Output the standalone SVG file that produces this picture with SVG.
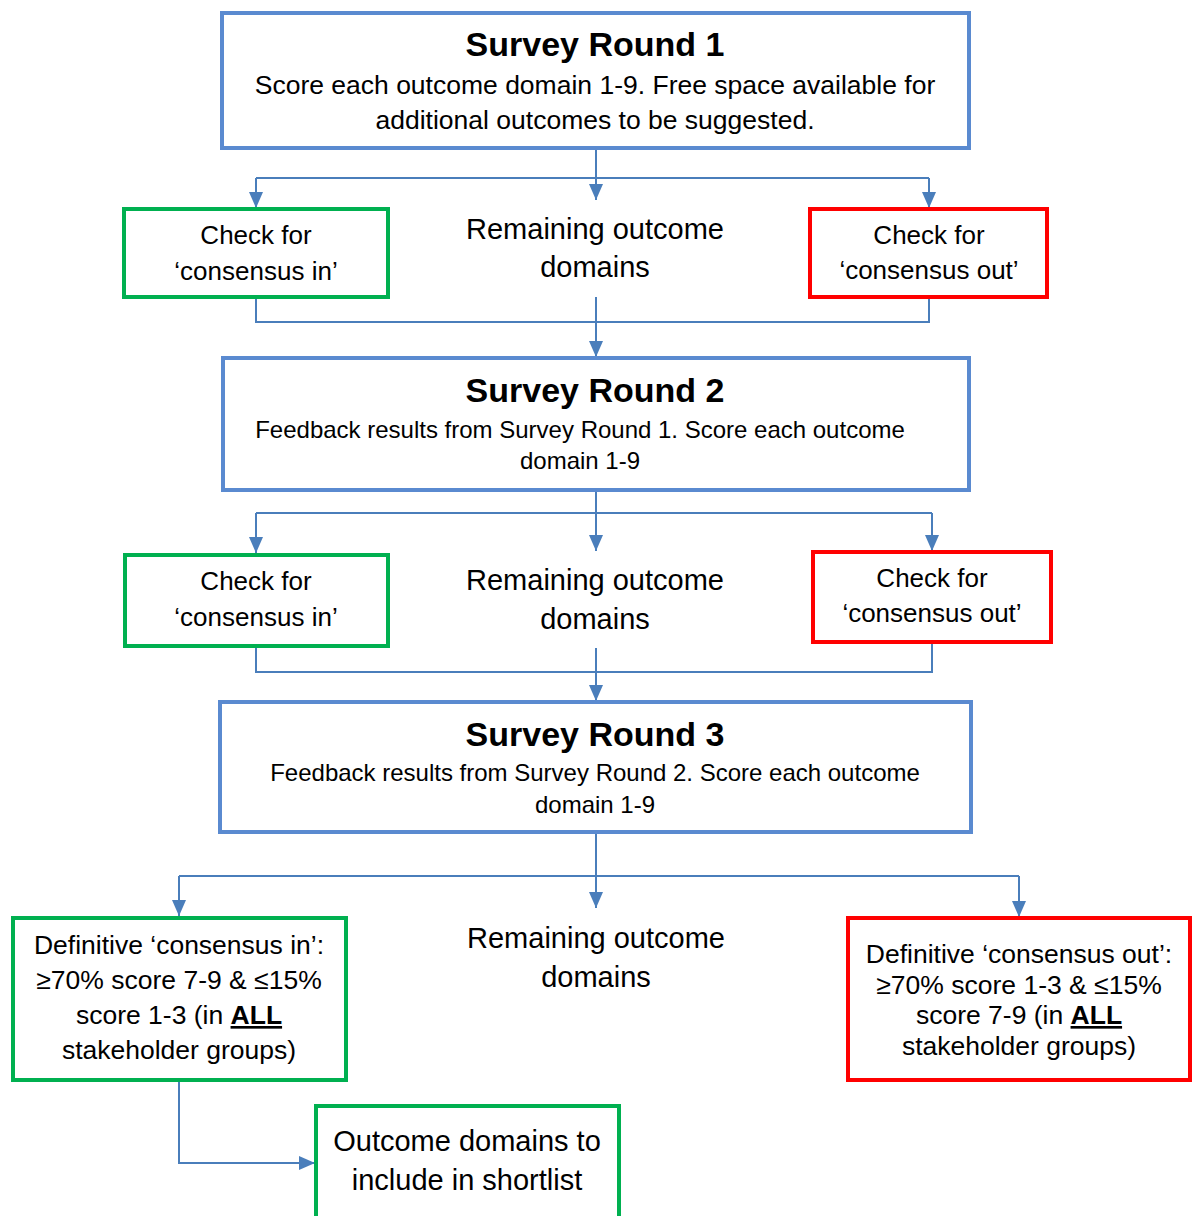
<svg xmlns="http://www.w3.org/2000/svg" width="1192" height="1216" viewBox="0 0 1192 1216">
<style>
text{font-family:"Liberation Sans",Arial,sans-serif;fill:#000;text-anchor:middle}
.t{font-size:34px;font-weight:bold}
.s{font-size:24px}
.s1{font-size:26.5px}
.m{font-size:26px}
.r{font-size:29px}
.blue{fill:#fff;stroke:#5A8AD0;stroke-width:4}
.green{fill:#fff;stroke:#00B050;stroke-width:4}
.red{fill:#fff;stroke:#FF0000;stroke-width:4}
.c{fill:none;stroke:#4A7EBB;stroke-width:2}
.b{font-weight:bold;text-decoration:underline}
</style>
<defs>
<marker id="ah" markerUnits="userSpaceOnUse" markerWidth="16" markerHeight="16" refX="16" refY="7" orient="auto">
<path d="M0,0 L16,7 L0,14 Z" fill="#4A7EBB"/>
</marker>
</defs>
<rect width="1192" height="1216" fill="#fff"/>
<g id="connectors">
<path class="c" d="M596,148 V178"/>
<path class="c" d="M256,178 H929"/>
<path class="c" d="M256,178 V208" marker-end="url(#ah)"/>
<path class="c" d="M596,178 V200" marker-end="url(#ah)"/>
<path class="c" d="M929,178 V208" marker-end="url(#ah)"/>
<path class="c" d="M256,297 V322 H929 V297"/>
<path class="c" d="M596,297 V357" marker-end="url(#ah)"/>
<path class="c" d="M596,490 V513"/>
<path class="c" d="M256,513 H932"/>
<path class="c" d="M256,513 V553" marker-end="url(#ah)"/>
<path class="c" d="M596,513 V551" marker-end="url(#ah)"/>
<path class="c" d="M932,513 V551" marker-end="url(#ah)"/>
<path class="c" d="M256,646 V672 H932 V642"/>
<path class="c" d="M596,648 V701" marker-end="url(#ah)"/>
<path class="c" d="M596,832 V908" marker-end="url(#ah)"/>
<path class="c" d="M179,876 H1019"/>
<path class="c" d="M179,876 V916" marker-end="url(#ah)"/>
<path class="c" d="M1019,876 V917" marker-end="url(#ah)"/>
<path class="c" d="M179,1082 V1163 H315" marker-end="url(#ah)"/>
</g>
<g id="round1">
<rect class="blue" x="222" y="13" width="747" height="135"/>
<text class="t" x="595" y="56">Survey Round 1</text>
<text class="s1" x="595" y="94">Score each outcome domain 1-9. Free space available for</text>
<text class="s1" x="595" y="129">additional outcomes to be suggested.</text>
</g>
<g id="check-in-1">
<rect class="green" x="124" y="209" width="264" height="88"/>
<text class="m" x="256" y="244">Check for</text>
<text class="m" x="256" y="280">‘consensus in’</text>
</g>
<g id="remaining-1">
<text class="r" x="595" y="239">Remaining outcome</text>
<text class="r" x="595" y="277">domains</text>
</g>
<g id="check-out-1">
<rect class="red" x="810" y="209" width="237" height="88"/>
<text class="m" x="929" y="244">Check for</text>
<text class="m" x="929" y="279">‘consensus out’</text>
</g>
<g id="round2">
<rect class="blue" x="223" y="358" width="746" height="132"/>
<text class="t" x="595" y="402">Survey Round 2</text>
<text class="s" x="580" y="438">Feedback results from Survey Round 1. Score each outcome</text>
<text class="s" x="580" y="469">domain 1-9</text>
</g>
<g id="check-in-2">
<rect class="green" x="125" y="555" width="263" height="91"/>
<text class="m" x="256" y="590">Check for</text>
<text class="m" x="256" y="626">‘consensus in’</text>
</g>
<g id="remaining-2">
<text class="r" x="595" y="590">Remaining outcome</text>
<text class="r" x="595" y="629">domains</text>
</g>
<g id="check-out-2">
<rect class="red" x="813" y="552" width="238" height="90"/>
<text class="m" x="932" y="587">Check for</text>
<text class="m" x="932" y="622">‘consensus out’</text>
</g>
<g id="round3">
<rect class="blue" x="220" y="702" width="751" height="130"/>
<text class="t" x="595" y="746">Survey Round 3</text>
<text class="s" x="595" y="781">Feedback results from Survey Round 2. Score each outcome</text>
<text class="s" x="595" y="813">domain 1-9</text>
</g>
<g id="definitive-in">
<rect class="green" x="13" y="918" width="333" height="162"/>
<text class="s1" x="179" y="954">Definitive ‘consensus in’:</text>
<text class="s1" x="179" y="989">≥70% score 7-9 &amp; ≤15%</text>
<text class="s1" x="179" y="1024">score 1-3 (in <tspan class="b">ALL</tspan></text>
<text class="s1" x="179" y="1059">stakeholder groups)</text>
</g>
<g id="remaining-3">
<text class="r" x="596" y="948">Remaining outcome</text>
<text class="r" x="596" y="987">domains</text>
</g>
<g id="definitive-out">
<rect class="red" x="848" y="918" width="342" height="162"/>
<text class="s1" x="1019" y="963">Definitive ‘consensus out’:</text>
<text class="s1" x="1019" y="994">≥70% score 1-3 &amp; ≤15%</text>
<text class="s1" x="1019" y="1024">score 7-9 (in <tspan class="b">ALL</tspan></text>
<text class="s1" x="1019" y="1055">stakeholder groups)</text>
</g>
<g id="shortlist">
<rect class="green" x="316" y="1106" width="303" height="130"/>
<text class="r" x="467" y="1151">Outcome domains to</text>
<text class="r" x="467" y="1190">include in shortlist</text>
</g>
</svg>
